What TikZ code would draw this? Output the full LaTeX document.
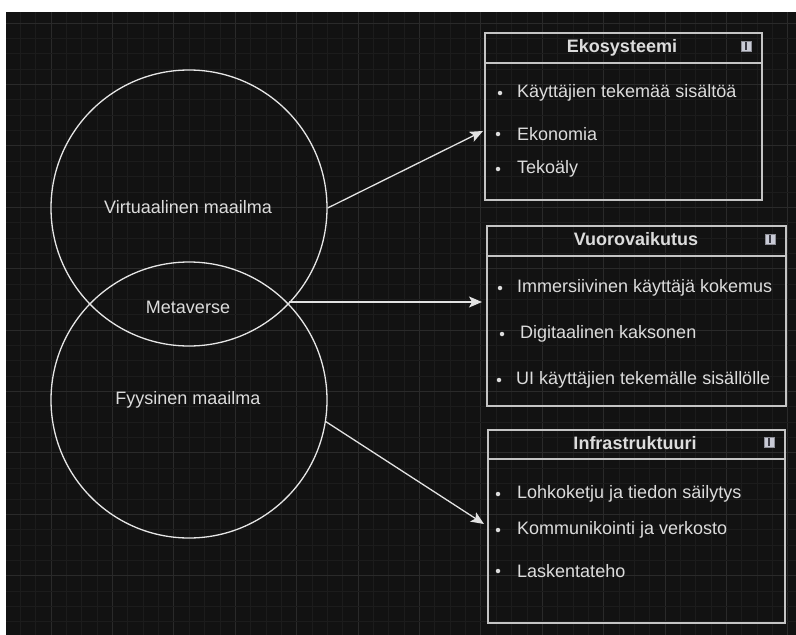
\documentclass[tikz,border=0pt]{standalone}
\usepackage{fontspec}
\setmainfont{Liberation Sans}
\usetikzlibrary{arrows.meta,calc}
\definecolor{bg}{HTML}{121212}
\definecolor{gridminor}{HTML}{1C1C1C}
\definecolor{gridmajor}{HTML}{2A2A2A}
\definecolor{txt}{HTML}{DCDCDC}
\definecolor{circ}{HTML}{E6E6E6}
\definecolor{boxc}{HTML}{C4C4C4}
\definecolor{arr}{HTML}{E2E2E2}
\definecolor{iconc}{HTML}{C9CBD6}
\definecolor{iconbar}{HTML}{3A3A44}
\begin{document}
\begin{tikzpicture}[x=1pt,y=-1pt,
  world/.style={circle, draw=circ, line width=1.3pt, minimum size=276pt, inner sep=0pt},
  lbl/.style={text=txt, font=\fontsize{18}{21}\selectfont, inner sep=0pt},
  panel/.style={rectangle, draw=boxc, line width=1.5pt, anchor=north west, inner sep=0pt},
  sepline/.style={draw=boxc, line width=1.5pt},
  ttl/.style={text=txt, font=\fontsize{18}{21}\selectfont\bfseries, inner sep=0pt},
  item/.style={text=txt, font=\fontsize{18}{21}\selectfont, anchor=west, inner sep=0pt},
  bul/.style={circle, fill=txt, inner sep=0pt, minimum size=4.5pt},
  icon/.style={rectangle, fill=iconc, draw=iconc!70!black, line width=0.4pt, minimum size=10pt, inner sep=0pt,
    path picture={\fill[iconbar] ($(path picture bounding box.center)+(-1.1,-3.6)$) rectangle ($(path picture bounding box.center)+(1.1,3.6)$);}},
  link/.style={draw=arr, line width=1.3pt, -{Stealth[length=13pt,width=11pt,inset=3pt]}}
]
\useasboundingbox (0,0) rectangle (796,635);
\fill[white] (0,0) rectangle (796,635);
\fill[bg] (6,12) rectangle (796,635);
\begin{scope}
\clip (6,12) rectangle (796,635);
\foreach \k in {0,...,51}{
  \pgfmathsetmacro{\xx}{5+15.35*\k}
  \pgfmathtruncatemacro{\m}{mod(\k,4)}
  \ifnum\m=3
    \draw[gridmajor, line width=0.9pt] (\xx,12) -- (\xx,635);
  \else
    \draw[gridminor, line width=0.7pt] (\xx,12) -- (\xx,635);
  \fi
}
\foreach \k in {1,...,41}{
  \pgfmathsetmacro{\yy}{7.65+15.35*\k}
  \pgfmathtruncatemacro{\m}{mod(\k,4)}
  \ifnum\m=1
    \draw[gridmajor, line width=0.9pt] (6,\yy) -- (796,\yy);
  \else
    \draw[gridminor, line width=0.7pt] (6,\yy) -- (796,\yy);
  \fi
}
\end{scope}

% circles
\node[world] (virt) at (189,208) {};
\node[world] (fyys) at (189,400) {};
\node[lbl] (virt-l) at (188,207) {Virtuaalinen maailma};
\node[lbl] (meta-l) at (188,307) {Metaverse};
\node[lbl] (fyys-l) at (188,400) {Fyysinen maailma};

% panel 1
\node[panel, minimum width=277pt, minimum height=167pt] (eko) at (484,32) {};
\draw[sepline] ($(eko.north west)+(0,31)$) -- ($(eko.north east)+(0,31)$);
\node[ttl] (eko-t) at (622,48) {Ekosysteemi};
\node[icon] (eko-i) at (746,46) {};
\node[bul] (eko-b1) at (500,93) {};
\node[item] (eko-1) at (517,93) {Käyttäjien tekemää sisältöä};
\node[bul] (eko-b2) at (498,134) {};
\node[item] (eko-2) at (517,134) {Ekonomia};
\node[bul] (eko-b3) at (498,169) {};
\node[item] (eko-3) at (517,169) {Tekoäly};

% panel 2
\node[panel, minimum width=299pt, minimum height=180pt] (vuo) at (486,225) {};
\draw[sepline] ($(vuo.north west)+(0,31)$) -- ($(vuo.north east)+(0,31)$);
\node[ttl] (vuo-t) at (636,239) {Vuorovaikutus};
\node[icon] (vuo-i) at (770,239) {};
\node[bul] (vuo-b1) at (500,288) {};
\node[item] (vuo-1) at (517,288) {Immersiivinen käyttäjä kokemus};
\node[bul] (vuo-b2) at (502,334) {};
\node[item] (vuo-2) at (520,334) {Digitaalinen kaksonen};
\node[bul] (vuo-b3) at (499,380) {};
\node[item] (vuo-3) at (516,380) {UI käyttäjien tekemälle sisällölle};

% panel 3
\node[panel, minimum width=297pt, minimum height=193pt] (inf) at (487,429) {};
\draw[sepline] ($(inf.north west)+(0,30)$) -- ($(inf.north east)+(0,30)$);
\node[ttl] (inf-t) at (635,443) {Infrastruktuuri};
\node[icon] (inf-i) at (769,442) {};
\node[bul] (inf-b1) at (498,494) {};
\node[item] (inf-1) at (517,494) {Lohkoketju ja tiedon säilytys};
\node[bul] (inf-b2) at (498,530) {};
\node[item] (inf-2) at (517,530) {Kommunikointi ja verkosto};
\node[bul] (inf-b3) at (498,571) {};
\node[item] (inf-3) at (517,571) {Laskentateho};

% connectors
\coordinate (t1) at (483,131);
\coordinate (mr) at (289,302);
\coordinate (t2) at (482,302);
\coordinate (t3) at (484,524);
\draw[link] (virt.east) -- (t1);
\draw[link] (mr) -- (t2);
\draw[link] (fyys.-9.5) -- (t3);
\end{tikzpicture}
\end{document}
